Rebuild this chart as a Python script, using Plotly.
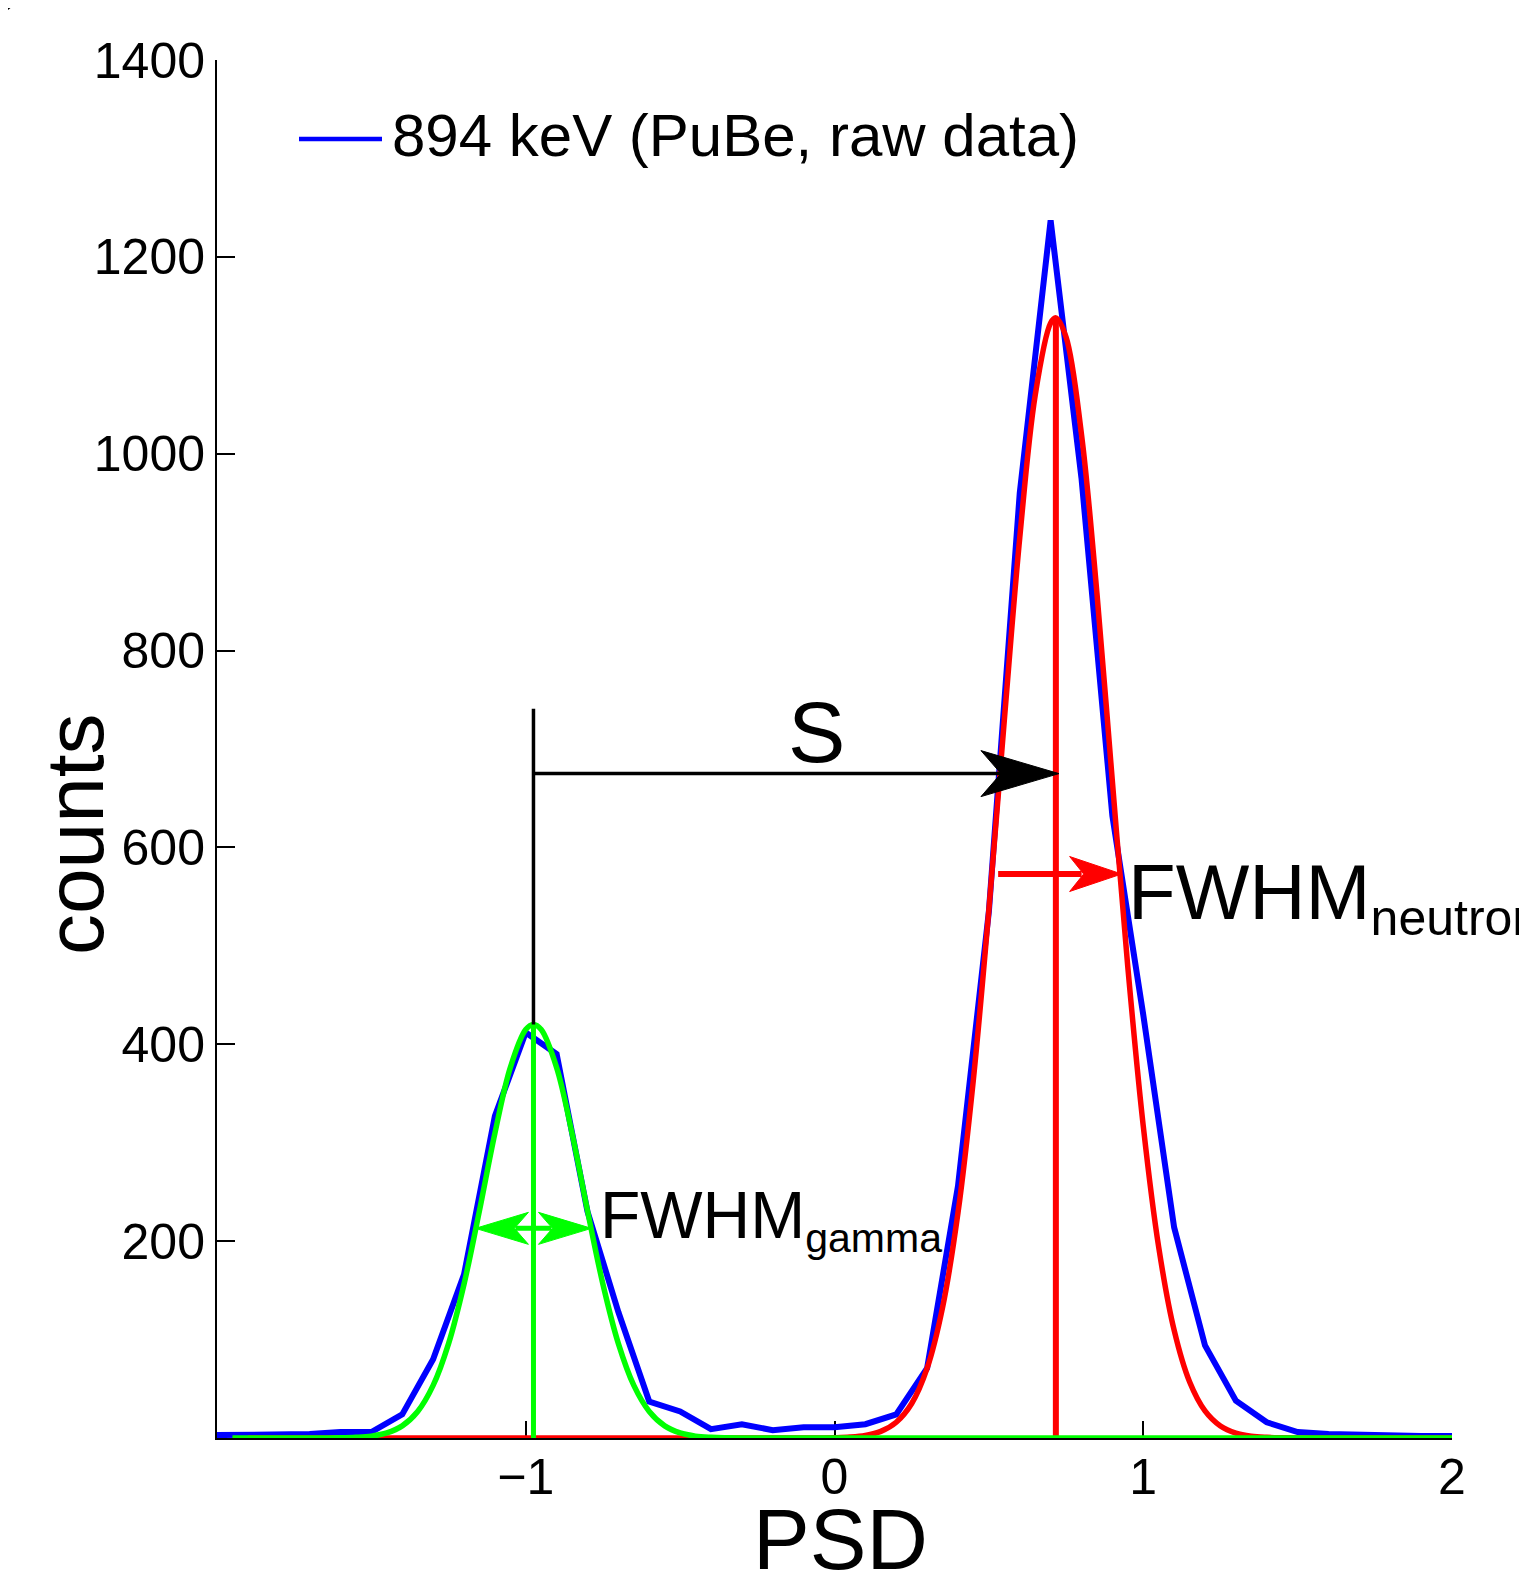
import plotly.graph_objects as go

# ---------------- data ----------------
psd_bins = [-2.0, -1.9, -1.8, -1.7, -1.6, -1.5, -1.4, -1.3, -1.2, -1.1,
            -1.0, -0.9, -0.8, -0.7, -0.6, -0.5, -0.4, -0.3, -0.2, -0.1,
            0.0, 0.1, 0.2, 0.3, 0.4, 0.5, 0.6, 0.7, 0.8, 0.9,
            1.0, 1.1, 1.2, 1.3, 1.4, 1.5, 1.6, 1.7, 1.8, 1.9, 2.0]
raw_counts = [3, 3, 3, 4, 6, 6, 24, 80, 166, 327,
              412, 390, 230, 128, 37, 27, 9, 14, 8, 11,
              11, 14, 24, 71, 256, 535, 960, 1237, 975, 632,
              430, 214, 94, 38, 16, 6, 4, 3, 3, 2, 2]

gamma_fit_x = [-1.95, -1.65, -1.6, -1.55, -1.5, -1.45, -1.4, -1.35, -1.3, -1.25, -1.2,
               -1.15, -1.1, -1.05, -1.0, -0.975, -0.95, -0.9, -0.85, -0.8, -0.75,
               -0.7, -0.65, -0.6, -0.55, -0.5, -0.45, -0.4, -0.35, -0.3, 2.0]
gamma_fit_y = [0, 0.1, 0.2, 0.7, 1.9, 5.1, 12.3, 26.9, 53.4, 95.9, 156.2,
               230.9, 309.5, 376.3, 414.9, 420, 414.9, 376.3, 309.5, 230.9, 156.2,
               95.9, 53.4, 26.9, 12.3, 5.1, 1.9, 0.7, 0.2, 0, 0]

neutron_fit_x = [-1.9, -0.05, 0.0, 0.05, 0.1, 0.15, 0.2, 0.25, 0.3, 0.35, 0.4, 0.45,
                 0.5, 0.55, 0.6, 0.65, 0.7, 0.717, 0.75, 0.8, 0.85, 0.9, 0.95,
                 1.0, 1.05, 1.1, 1.15, 1.2, 1.25, 1.3, 1.35, 1.4, 1.45, 1.5, 2.0]
neutron_fit_y = [0, 0.1, 0.3, 0.9, 2.6, 6.7, 16.0, 35.0, 70.9, 132.6, 228.9, 364.8,
                 536.8, 729.2, 914.6, 1059.4, 1132.8, 1138, 1118.4, 1019.5, 858.2, 666.9, 478.5,
                 317.0, 193.9, 109.5, 57.1, 27.5, 12.2, 5.0, 1.9, 0.7, 0.2, 0, 0]

gamma_mean, gamma_peak, gamma_half_width = -0.975, 420, 0.188
neutron_mean, neutron_peak = 0.717, 1138

x_ticks = [-1, 0, 1, 2]
x_tick_text = ["\u22121", "0", "1", "2"]
y_ticks = [200, 400, 600, 800, 1000, 1200, 1400]

# ---------------- geometry helpers ----------------
# the page places the figure 8 px from the window's top-left corner
PAGE_OFF = 8
W, H = 1519, 1568
ML, MR, MT, MB = 209, 75, 52, 138
PW, PH = W - ML - MR, H - MT - MB
XR, YR = (-2, 2), (0, 1400)
DX = (XR[1] - XR[0]) / PW   # data units per pixel
DY = (YR[1] - YR[0]) / PH


def px2paper_x(px):  # px in window coordinates
    return (px - PAGE_OFF - ML) / PW


def px2paper_y(py):
    return (H - MB + PAGE_OFF - py) / PH


def arrow_head(tx, ty, direction, length, half, notch):
    bx = tx - direction * length * DX
    nx = tx - direction * notch * DX
    return (f"M {tx},{ty} L {bx},{ty + half * DY} L {nx},{ty} "
            f"L {bx},{ty - half * DY} Z")


BLUE, RED, GREEN = "#0000ff", "#ff0000", "#00ff00"
FONT = "Liberation Sans, Arial, sans-serif"

fig = go.Figure()
fig.add_trace(go.Scatter(x=psd_bins, y=raw_counts, mode="lines",
                         line=dict(color=BLUE, width=6),
                         name="894 keV (PuBe, raw data)"))
fig.add_trace(go.Scatter(x=neutron_fit_x, y=neutron_fit_y, mode="lines",
                         line=dict(color=RED, width=5.5, shape="spline")))
fig.add_trace(go.Scatter(x=[neutron_mean, neutron_mean], y=[0, neutron_peak], mode="lines",
                         line=dict(color=RED, width=6)))
fig.add_trace(go.Scatter(x=gamma_fit_x, y=gamma_fit_y, mode="lines",
                         line=dict(color=GREEN, width=5.5, shape="spline")))
fig.add_trace(go.Scatter(x=[gamma_mean, gamma_mean], y=[0, gamma_peak], mode="lines",
                         line=dict(color=GREEN, width=5)))

shapes = []
# black S marker: vertical tick and arrow
s_y = 675
shapes.append(dict(type="line", x0=gamma_mean, x1=gamma_mean, y0=gamma_peak, y1=741,
                   line=dict(color="black", width=3.5)))
s_tip = 0.727
shapes.append(dict(type="line", x0=gamma_mean, x1=s_tip - 50 * DX, y0=s_y, y1=s_y,
                   line=dict(color="black", width=3.5)))
shapes.append(dict(type="path", path=arrow_head(s_tip, s_y, 1, 78, 23, 58),
                   fillcolor="black", line=dict(color="black", width=1)))
# red FWHM arrow
n_y = neutron_peak / 2 + 4
n_tip = 0.93
shapes.append(dict(type="line", x0=0.53, x1=n_tip - 40 * DX, y0=n_y, y1=n_y,
                   line=dict(color=RED, width=6)))
shapes.append(dict(type="path", path=arrow_head(n_tip, n_y, 1, 52, 17.5, 38),
                   fillcolor=RED, line=dict(color=RED, width=1)))
# green FWHM double arrow
g_y = gamma_peak / 2 + 3
gl, gr = gamma_mean - gamma_half_width, gamma_mean + gamma_half_width
shapes.append(dict(type="line", x0=gl + 40 * DX, x1=gr - 40 * DX, y0=g_y, y1=g_y,
                   line=dict(color=GREEN, width=5)))
shapes.append(dict(type="path", path=arrow_head(gl, g_y, -1, 53, 16, 39),
                   fillcolor=GREEN, line=dict(color=GREEN, width=1)))
shapes.append(dict(type="path", path=arrow_head(gr, g_y, 1, 53, 16, 39),
                   fillcolor=GREEN, line=dict(color=GREEN, width=1)))
# legend line
shapes.append(dict(type="line", xref="paper", yref="paper",
                   x0=px2paper_x(299), x1=px2paper_x(382),
                   y0=px2paper_y(139), y1=px2paper_y(139),
                   line=dict(color=BLUE, width=4.5)))
# corner fragment at top-left
shapes.append(dict(type="path", xref="paper", yref="paper",
                   path=(f"M {px2paper_x(0)},{px2paper_y(0)} L {px2paper_x(21)},{px2paper_y(0)} "
                         f"L {px2paper_x(0)},{px2paper_y(16)} Z"),
                   fillcolor="black", line=dict(width=0)))

annotations = [
    dict(text="894 keV (PuBe, raw data)", xref="paper", yref="paper",
         x=px2paper_x(390), y=px2paper_y(135), xanchor="left", yanchor="middle",
         showarrow=False, font=dict(family=FONT, size=60, color="black")),
    dict(text="S", xref="x", yref="y", x=-0.059, y=717, xanchor="center", yanchor="middle",
         showarrow=False, font=dict(family=FONT, size=86, color="black")),
    dict(text='FWHM<sub><span style="font-size:50px">neutron</span></sub>',
         xref="paper", yref="paper",
         x=px2paper_x(1126), y=px2paper_y(846), xanchor="left", yanchor="top",
         showarrow=False, font=dict(family=FONT, size=78, color="black")),
    dict(text='FWHM<sub><span style="font-size:41px">gamma</span></sub>',
         xref="paper", yref="paper",
         x=px2paper_x(598), y=px2paper_y(1176), xanchor="left", yanchor="top",
         showarrow=False, font=dict(family=FONT, size=66, color="black")),
    dict(text="PSD", xref="paper", yref="paper",
         x=px2paper_x(840), y=px2paper_y(1490), xanchor="center", yanchor="top",
         showarrow=False, font=dict(family=FONT, size=85, color="black")),
    dict(text="counts", xref="paper", yref="paper", textangle=-90,
         x=px2paper_x(74), y=px2paper_y(834), xanchor="center", yanchor="middle",
         showarrow=False, font=dict(family=FONT, size=82, color="black")),
]

fig.update_layout(
    width=W, height=H,
    margin=dict(l=ML, r=MR, t=MT, b=MB, pad=0),
    paper_bgcolor="white", plot_bgcolor="white",
    showlegend=False,
    font=dict(family=FONT, color="black"),
    shapes=shapes, annotations=annotations,
    xaxis=dict(range=list(XR), showgrid=False, zeroline=False, showline=True,
               linecolor="black", linewidth=2, ticks="inside", ticklen=17,
               tickwidth=2, tickcolor="black", tickvals=x_ticks, ticktext=x_tick_text,
               tickfont=dict(family=FONT, size=50, color="black"),
               ticklabelstandoff=-6,
               layer="below traces", fixedrange=True),
    yaxis=dict(range=list(YR), showgrid=False, zeroline=False, showline=True,
               linecolor="black", linewidth=2, ticks="inside", ticklen=18,
               tickwidth=2, tickcolor="black", tickvals=y_ticks,
               tickfont=dict(family=FONT, size=50, color="black"),
               layer="below traces", fixedrange=True),
)

fig.write_html("out.html")
